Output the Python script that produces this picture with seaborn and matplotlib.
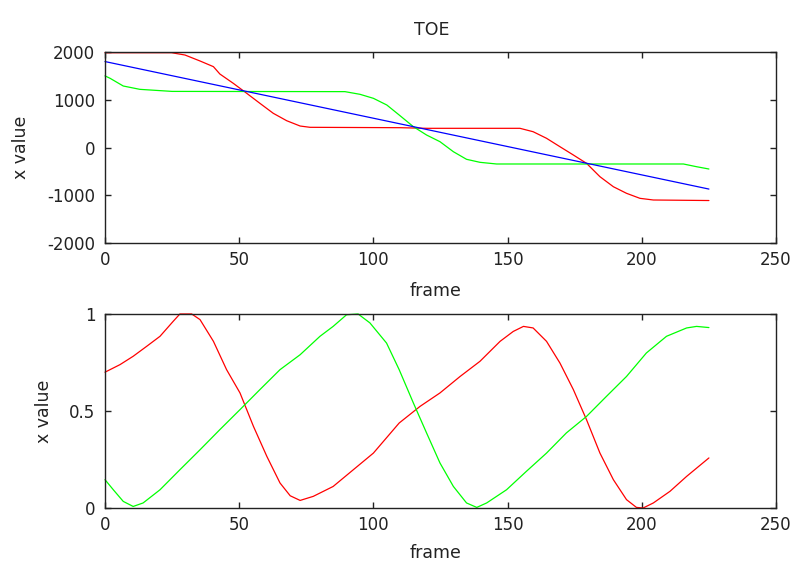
import matplotlib
matplotlib.use("Agg")
import matplotlib.pyplot as plt
import seaborn as sns
import pandas as pd

# ---- top panel: TOE x value per frame ----
top_red_frame = [0, 24.8, 29.8, 35.4, 40.4, 42.8, 47.8, 52.8, 57.7, 62.7, 67.7, 72.7, 76.4,
                 110, 120, 154.6, 159.5, 164.5, 169.5, 174.5, 179.4, 184.4, 189.4, 194.3,
                 199.3, 204.3, 225]
top_red_value = [1985, 1985, 1937, 1812, 1693, 1539, 1344, 1135, 926, 716, 561, 450, 423,
                 415, 402, 402, 331, 193, 17, -157, -331, -611, -821, -959,
                 -1064, -1099, -1110]

top_green_frame = [0, 1.9, 6.8, 13, 25, 89.4, 95, 100, 105, 109.6, 114.9, 119.8, 124.8,
                   129.8, 134.7, 139.7, 145.9, 215.5, 220.4, 225]
top_green_value = [1500, 1449, 1288, 1218, 1175, 1170, 1114, 1030, 890, 681, 436, 262, 122,
                   -88, -247, -310, -345, -345, -402, -450]

top_blue_frame = [0, 225]
top_blue_value = [1800, -870]

# ---- bottom panel: normalised x value per frame ----
bot_red_frame = [0, 5.6, 10.5, 15.5, 20.5, 25.4, 27.9, 32.3, 35.4, 40.4, 45.3, 50.3, 55.3,
                 60.3, 65.2, 69, 72.7, 77.6, 85, 92.5, 100, 109.6, 117.4, 124.8, 132.3,
                 139.7, 147.2, 152.1, 155.9, 159.5, 164.5, 169.5, 174.5, 179.4, 184.4,
                 189.4, 194.3, 198, 200.5, 204.3, 210.5, 216.7, 225]
bot_red_value = [0.70, 0.739, 0.782, 0.833, 0.885, 0.962, 1.0, 1.0, 0.971, 0.859, 0.713,
                 0.593, 0.421, 0.266, 0.129, 0.063, 0.039, 0.06, 0.111, 0.197, 0.283, 0.438,
                 0.524, 0.593, 0.678, 0.756, 0.859, 0.91, 0.936, 0.928, 0.859, 0.747, 0.61,
                 0.455, 0.283, 0.146, 0.043, 0.003, 0.0, 0.026, 0.086, 0.163, 0.258]

bot_green_frame = [0, 3.1, 6.8, 10.5, 14.2, 20.5, 27.9, 35.4, 42.8, 50.3, 57.7, 65.2, 72.7,
                   80.1, 85, 90, 94.3, 98.7, 104.9, 109.6, 114.9, 119.8, 124.8, 129.8,
                   134.7, 138.5, 142.2, 149.6, 157, 164.5, 171.9, 179.4, 186.8, 194.3,
                   201.7, 209.2, 216.7, 220.4, 225]
bot_green_value = [0.146, 0.094, 0.034, 0.008, 0.026, 0.094, 0.197, 0.30, 0.404, 0.507,
                   0.61, 0.713, 0.79, 0.885, 0.936, 0.996, 1.0, 0.954, 0.85, 0.713, 0.541,
                   0.387, 0.232, 0.111, 0.026, 0.003, 0.026, 0.094, 0.189, 0.283, 0.387,
                   0.472, 0.575, 0.678, 0.799, 0.885, 0.928, 0.936, 0.93]

x_ticks = [0, 50, 100, 150, 200, 250]
top_y_ticks = [-2000, -1000, 0, 1000, 2000]
bot_y_ticks = [0, 0.5, 1]
bot_y_labels = ["0", "0.5", "1"]

sns.set_theme(style="white")
plt.rcParams["font.family"] = ["DejaVu Sans"]
plt.rcParams.update({
    "axes.edgecolor": "#222222",
    "axes.linewidth": 1.0,
    "xtick.direction": "in",
    "ytick.direction": "in",
    "xtick.major.size": 4.5,
    "ytick.major.size": 4.5,
    "xtick.major.width": 1.0,
    "ytick.major.width": 1.0,
    "xtick.color": "#222222",
    "ytick.color": "#222222",
    "xtick.labelsize": 12,
    "ytick.labelsize": 12,
    "text.color": "#222222",
    "axes.labelcolor": "#222222",
})

fig = plt.figure(figsize=(7.96, 5.64), dpi=100)
ax1 = fig.add_axes([0.1319, 0.5691, 0.843, 0.3387])
ax2 = fig.add_axes([0.1319, 0.0993, 0.843, 0.3440])

lw = 0.9
def draw(ax, xs, ys, color):
    df = pd.DataFrame({"frame": xs, "value": ys})
    sns.lineplot(data=df, x="frame", y="value", ax=ax, color=color, linewidth=lw,
                 estimator=None, sort=False, clip_on=False)

draw(ax1, top_red_frame, top_red_value, "#ff0000")
draw(ax1, top_green_frame, top_green_value, "#00ff00")
draw(ax1, top_blue_frame, top_blue_value, "#0000ff")

draw(ax2, bot_red_frame, bot_red_value, "#ff0000")
draw(ax2, bot_green_frame, bot_green_value, "#00ff00")

for ax in (ax1, ax2):
    ax.set_xlim(0, 250)
    ax.set_xticks(x_ticks)
    ax.set_xticklabels([str(t) for t in x_ticks])
    ax.tick_params(axis="x", which="both", pad=6, top=True, bottom=True,
                   labeltop=False)
    ax.tick_params(axis="y", which="both", pad=7, left=True, right=True,
                   labelright=False)
    ax.set_xlabel("frame", fontsize=12.5)
    ax.set_ylabel("x value", fontsize=12.5)
    for s in ax.spines.values():
        s.set_visible(True)

ax1.set_ylim(-2000, 2000)
ax1.set_yticks(top_y_ticks)
ax1.set_yticklabels([str(t) for t in top_y_ticks])
ax1.set_title("TOE", fontsize=12.5, x=0.487, pad=12)
ax1.xaxis.set_label_coords(0.493, -0.205)
ax1.yaxis.set_label_coords(-0.112, 0.5)

ax2.set_ylim(0, 1)
ax2.set_yticks(bot_y_ticks)
ax2.set_yticklabels(bot_y_labels)
ax2.xaxis.set_label_coords(0.493, -0.188)
ax2.yaxis.set_label_coords(-0.078, 0.5)

fig.savefig("out.png", dpi=100, facecolor="white")
